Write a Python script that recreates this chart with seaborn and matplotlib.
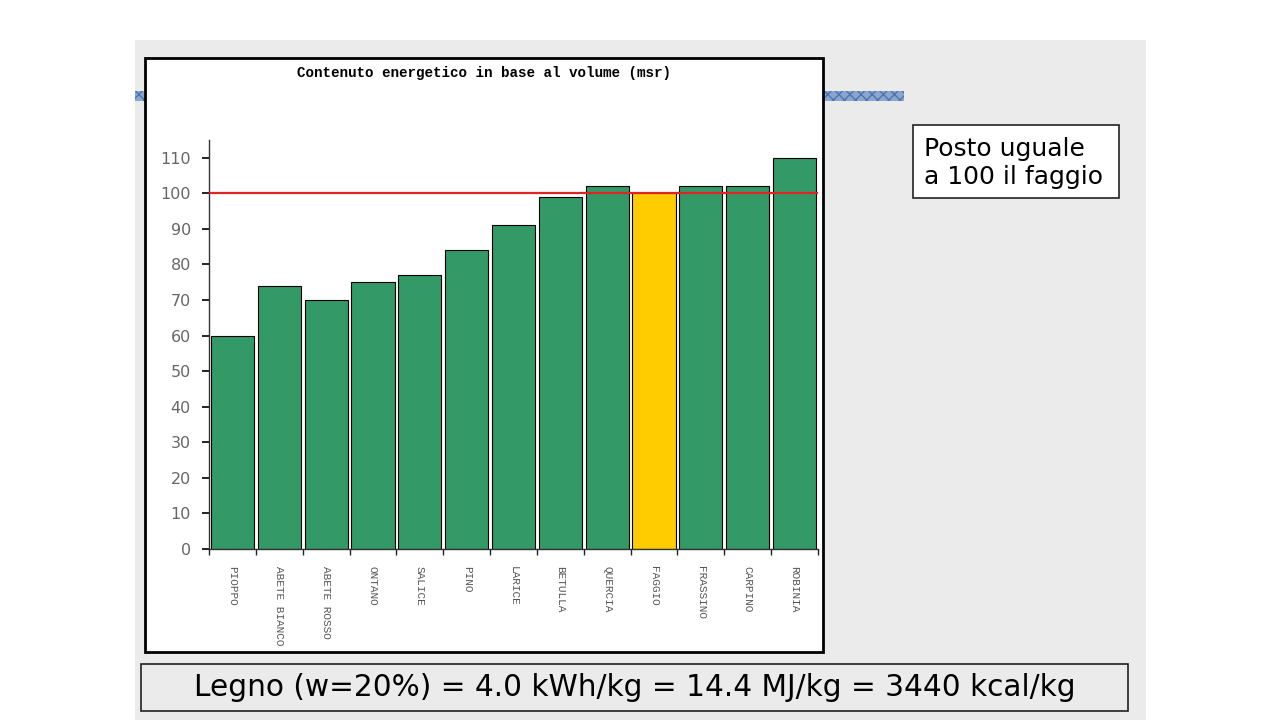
import numpy as np
import pandas as pd
import matplotlib
matplotlib.use('Agg')
import matplotlib.pyplot as plt
import matplotlib.patches as mpatches
import seaborn as sns

# data
specie = ['PIOPPO', 'ABETE BIANCO', 'ABETE ROSSO', 'ONTANO', 'SALICE', 'PINO',
          'LARICE', 'BETULLA', 'QUERCIA', 'FAGGIO', 'FRASSINO', 'CARPINO', 'ROBINIA']
valori = [60, 74, 70, 75, 77, 84, 91, 99, 102, 100, 102, 102, 110]
riferimento = 100
yticks = list(range(0, 111, 10))

titolo = 'Contenuto energetico in base al volume (msr)'
nota = 'Posto uguale\na 100 il faggio'
legno = 'Legno (w=20%) = 4.0 kWh/kg = 14.4 MJ/kg = 3440 kcal/kg'

df = pd.DataFrame({'specie': specie, 'valore': valori})
colori = ['#FFCC00' if s == 'FAGGIO' else '#339966' for s in specie]

sns.set_style('white')
fig = plt.figure(figsize=(12.8, 7.2), dpi=100)
fig.patch.set_facecolor('white')

W, H = 1280, 720
def box(x0, y0, x1, y1):
    # pixel box -> figure fraction (left, bottom, width, height)
    return (x0 / W, 1 - y1 / H, (x1 - x0) / W, (y1 - y0) / H)

def rect(x0, y0, x1, y1, **kw):
    l, b, w, h = box(x0, y0, x1, y1)
    fig.patches.append(mpatches.Rectangle((l, b), w, h, transform=fig.transFigure, **kw))

# slide background (textured grey area) and blue decorative band
rect(135, 40, 1146, 720, facecolor='#ebebeb', edgecolor='none', zorder=0)
rect(135, 91, 904, 101, facecolor='#8aa6d0', edgecolor='#4f74ad', lw=0, hatch='xxx', zorder=0)

# chart frame
rect(145, 58, 823, 652, facecolor='white', edgecolor='black', lw=2, zorder=1)
fig.text((145 + 823) / 2 / W, 1 - 73 / H, titolo, ha='center', va='center', color='black',
         family='Liberation Mono', weight='bold', fontsize=10.3, zorder=3)

ax = fig.add_axes(box(209, 140, 818, 549))
ax.set_facecolor('none')
ax.set_zorder(2)
sns.barplot(data=df, x='specie', y='valore', hue='specie', palette=colori,
            legend=False, width=0.92, edgecolor='black', linewidth=0.8,
            saturation=1, ax=ax)
ax.axhline(riferimento, color='#e02424', lw=1.6, zorder=5)

ax.set_xlim(-0.5, len(specie) - 0.5)
ax.set_ylim(0, 115)
ax.set_yticks(yticks)
ax.set_xlabel('')
ax.set_ylabel('')
for s in ['top', 'right']:
    ax.spines[s].set_visible(False)
for s in ['left', 'bottom']:
    ax.spines[s].set_color('#333333')
    ax.spines[s].set_linewidth(1.0)

ax.tick_params(axis='y', length=5, width=1.4, color='#222222', labelsize=11.5,
               labelcolor='#666666', direction='out', left=True, pad=8)
ax.set_xticks(range(len(specie)))
ax.set_xticklabels(specie, rotation=270, family='Liberation Mono', fontsize=8.0,
                   color='#555555', va='top', ha='center')
ax.tick_params(axis='x', length=0, pad=12)
ax.set_xticks(np.arange(len(specie) + 1) - 0.5, minor=True)
ax.tick_params(axis='x', which='minor', length=4, width=1, color='#222222', bottom=True)

# side note
rect(913, 125, 1119, 198, facecolor='white', edgecolor='#222222', lw=1.2, zorder=1)
fig.text(924 / W, 1 - 163 / H, nota, ha='left', va='center', fontsize=18, color='black',
         family='DejaVu Sans', linespacing=1.2, zorder=3)

# bottom equivalence box
rect(141, 664, 1128, 711, facecolor='#ebebeb', edgecolor='#222222', lw=1.2, zorder=1)
fig.text((141 + 1128) / 2 / W, 1 - 688 / H, legno, ha='center', va='center', color='black',
         fontsize=21.3, family='DejaVu Sans', zorder=3)

fig.savefig('out.png', dpi=100)
